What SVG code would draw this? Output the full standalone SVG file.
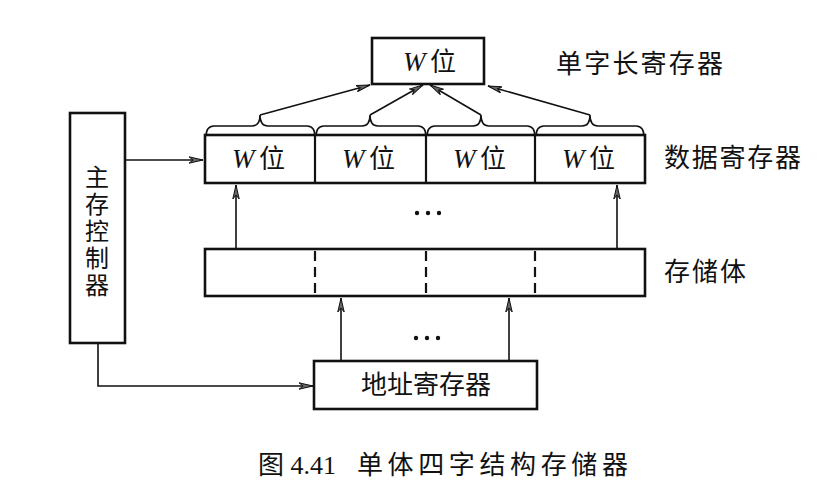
<svg xmlns="http://www.w3.org/2000/svg" width="827" height="494" viewBox="0 0 827 494">
  <style>
    .box { fill: #fff; stroke: #111; stroke-width: 2.6; }
    .div { stroke: #111; stroke-width: 2.2; }
    .dash { stroke: #111; stroke-width: 2.2; stroke-dasharray: 10 6; }
    .wire { fill: none; stroke: #111; stroke-width: 1.6; }
    .brace { fill: none; stroke: #111; stroke-width: 1.6; }
    .cjk { font-family: "Noto Sans CJK SC", "Noto Sans CJK JP", sans-serif; font-size: 26px; fill: #111; }
    .vert { font-family: "Noto Sans CJK SC", "Noto Sans CJK JP", sans-serif; font-size: 24px; fill: #111; writing-mode: vertical-rl; letter-spacing: 3px; }
    .cap { font-family: "Liberation Serif", "Noto Sans CJK SC", serif; font-size: 26px; fill: #111; }
    .w { font-family: "Liberation Serif", serif; font-style: italic; font-size: 27px; fill: #111; }
  </style>
  <defs>
    <marker id="arr" markerWidth="16" markerHeight="8" refX="14" refY="4" orient="auto" markerUnits="userSpaceOnUse">
      <path d="M0,0.8 L14,4 L0,7.2 L4,4 z" fill="#666" stroke="#111" stroke-width="1"/>
    </marker>
  </defs>

  <!-- connectors -->
  <g id="connectors">
    <!-- brace tips to the single-word register -->
    <line class="wire" x1="260" y1="115" x2="370" y2="85" marker-end="url(#arr)"/>
    <line class="wire" x1="370" y1="115" x2="423" y2="85" marker-end="url(#arr)"/>
    <line class="wire" x1="481" y1="115" x2="430" y2="85" marker-end="url(#arr)"/>
    <line class="wire" x1="590" y1="115" x2="488" y2="86" marker-end="url(#arr)"/>
    <!-- memory bank to data register -->
    <line class="wire" x1="236" y1="249" x2="236" y2="185" marker-end="url(#arr)"/>
    <line class="wire" x1="617" y1="249" x2="617" y2="185" marker-end="url(#arr)"/>
    <!-- address register to memory bank -->
    <line class="wire" x1="341" y1="361" x2="341" y2="298" marker-end="url(#arr)"/>
    <line class="wire" x1="509" y1="361" x2="509" y2="298" marker-end="url(#arr)"/>
    <!-- controller outputs -->
    <line class="wire" x1="125" y1="160" x2="203" y2="160" marker-end="url(#arr)"/>
    <polyline class="wire" points="98,343 98,386 313,386" marker-end="url(#arr)"/>
    <!-- braces over the four data words -->
    <path class="brace" d="M206,137 Q206,126 214,126 L252,126 Q260,126 260,115 Q260,126 268,126 L307,126 Q315,126 315,137"/>
    <path class="brace" d="M316,137 Q316,126 324,126 L362,126 Q370,126 370,115 Q370,126 378,126 L418,126 Q426,126 426,137"/>
    <path class="brace" d="M427,137 Q427,126 435,126 L473,126 Q481,126 481,115 Q481,126 489,126 L527,126 Q535,126 535,137"/>
    <path class="brace" d="M536,137 Q536,126 544,126 L582,126 Q590,126 590,115 Q590,126 598,126 L636,126 Q644,126 644,137"/>
    <!-- ellipses -->
    <circle cx="417" cy="213" r="2.2" fill="#111"/>
    <circle cx="428" cy="213" r="2.2" fill="#111"/>
    <circle cx="439" cy="213" r="2.2" fill="#111"/>
    <circle cx="416" cy="338" r="2.2" fill="#111"/>
    <circle cx="427" cy="338" r="2.2" fill="#111"/>
    <circle cx="438" cy="338" r="2.2" fill="#111"/>
  </g>

  <!-- single-word-length register -->
  <g id="word-register">
    <rect class="box" x="372" y="38" width="112" height="46"/>
    <text class="w" x="403" y="71">W</text>
    <text class="cjk" x="430" y="71">位</text>
  </g>

  <!-- data register: four W-bit words -->
  <g id="data-register">
    <rect class="box" x="205" y="135" width="440" height="48"/>
    <line class="div" x1="315" y1="135" x2="315" y2="183"/>
    <line class="div" x1="426" y1="135" x2="426" y2="183"/>
    <line class="div" x1="535" y1="135" x2="535" y2="183"/>
    <text class="w" x="232" y="168">W</text>
    <text class="cjk" x="259" y="168">位</text>
    <text class="w" x="342" y="168">W</text>
    <text class="cjk" x="369" y="168">位</text>
    <text class="w" x="453" y="168">W</text>
    <text class="cjk" x="480" y="168">位</text>
    <text class="w" x="562" y="168">W</text>
    <text class="cjk" x="589" y="168">位</text>
  </g>

  <!-- memory bank -->
  <g id="memory-bank">
    <rect class="box" x="205" y="249" width="440" height="47"/>
    <line class="dash" x1="315" y1="251" x2="315" y2="294"/>
    <line class="dash" x1="426" y1="251" x2="426" y2="294"/>
    <line class="dash" x1="535" y1="251" x2="535" y2="294"/>
  </g>

  <!-- address register -->
  <g id="address-register">
    <rect class="box" x="314" y="361" width="223" height="48"/>
    <text class="cjk" x="426" y="394" text-anchor="middle">地址寄存器</text>
  </g>

  <!-- main memory controller, label set vertically -->
  <g id="controller">
    <rect class="box" x="70" y="113" width="55" height="230"/>
    <text class="vert" x="97" y="165">主存控制器</text>
  </g>

  <!-- side labels -->
  <g id="labels">
    <text class="cjk" x="556" y="73" textLength="167" lengthAdjust="spacing">单字长寄存器</text>
    <text class="cjk" x="664" y="167" textLength="137" lengthAdjust="spacing">数据寄存器</text>
    <text class="cjk" x="664" y="281" textLength="82" lengthAdjust="spacing">存储体</text>
  </g>

  <!-- caption -->
  <text class="cap" x="258" y="474">图 4.41</text>
  <text class="cap" x="357" y="474" textLength="271" lengthAdjust="spacing">单体四字结构存储器</text>
</svg>
